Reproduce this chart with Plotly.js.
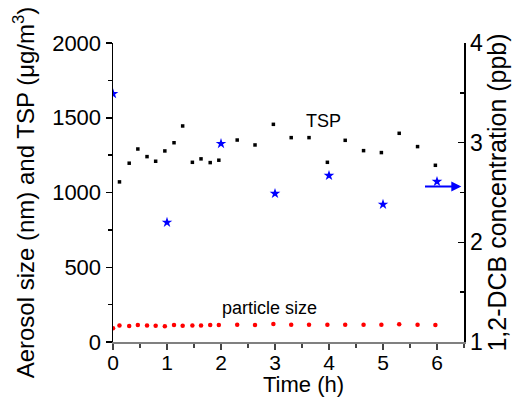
<!DOCTYPE html>
<html>
<head>
<meta charset="utf-8">
<script src="https://cdn.plot.ly/plotly-3.0.1.min.js"></script>
<style>html,body{margin:0;padding:0;background:#fff}#chart{width:512px;height:398px}</style>
</head>
<body>
<div id="chart"></div>
<script>
// TSP (µg/m3)
const tspTime = [0.12, 0.30, 0.46, 0.63, 0.79, 0.96, 1.13, 1.29, 1.47, 1.63, 1.80, 1.96, 2.30, 2.63, 2.97, 3.30, 3.63, 3.97, 4.30, 4.64, 4.97, 5.30, 5.64, 5.97];
const tspValue = [1071, 1196, 1291, 1240, 1209, 1278, 1333, 1445, 1202, 1225, 1200, 1216, 1351, 1318, 1456, 1367, 1367, 1202, 1349, 1280, 1267, 1396, 1307, 1182];
// particle size (nm)
const sizeTime = [0, 0.12, 0.30, 0.46, 0.63, 0.79, 0.96, 1.13, 1.29, 1.47, 1.63, 1.80, 1.96, 2.30, 2.63, 2.97, 3.30, 3.63, 3.97, 4.30, 4.64, 4.97, 5.30, 5.64, 5.97];
const sizeValue = [92, 111, 107, 114, 111, 109, 106, 113, 109, 111, 111, 113, 113, 116, 113, 120, 116, 116, 116, 116, 116, 116, 118, 116, 113];
// 1,2-DCB concentration (ppb)
const dcbTime = [0, 1, 2, 3, 4, 5, 6];
const dcbValue = [3.49, 2.20, 2.99, 2.49, 2.67, 2.38, 2.61];
// arrow pointing to right axis
const arrowX = [5.75, 6.45];
const arrowY = 2.56;

const FONT = 'Liberation Sans, Arial, sans-serif';

const traces = [
  {x: sizeTime, y: sizeValue, type: 'scatter', mode: 'markers', name: 'particle size',
   marker: {color: '#ff0000', size: 4.5, symbol: 'circle'}, yaxis: 'y'},
  {x: tspTime, y: tspValue, type: 'scatter', mode: 'markers', name: 'TSP',
   marker: {color: '#000000', size: 3.5, symbol: 'square'}, yaxis: 'y'},
  {x: dcbTime, y: dcbValue, type: 'scatter', mode: 'markers', name: '1,2-DCB',
   marker: {color: '#0000ff', size: 8, symbol: 'star'}, yaxis: 'y2'}
];

const layout = {
  width: 512, height: 398,
  margin: {l: 113, r: 48, t: 43, b: 56},
  paper_bgcolor: '#fff', plot_bgcolor: '#fff',
  showlegend: false,
  font: {family: FONT, color: '#000', size: 22},
  xaxis: {
    range: [0, 6.5], dtick: 1, tick0: 0, ticks: 'outside', ticklen: 6, tickwidth: 1.5, tickcolor: '#444',
    minor: {dtick: 0.5, ticks: 'outside', ticklen: 4, tickcolor: '#444'},
    showline: true, linecolor: '#808080', linewidth: 2, showgrid: false, zeroline: false,
    tickfont: {size: 21, family: FONT}, ticklabelstandoff: -5
  },
  yaxis: {
    range: [0, 2000], dtick: 500, tick0: 0, ticks: 'outside', ticklen: 6, tickwidth: 1.5, tickcolor: '#000',
    minor: {dtick: 250, ticks: 'outside', ticklen: 4, tickcolor: '#000'},
    showline: true, linecolor: '#000', linewidth: 1.5, showgrid: false, zeroline: false,
    tickfont: {size: 22, family: FONT},
    title: {text: 'Aerosol size (nm) and TSP (μg/m<sup>3</sup>)', font: {size: 24, family: FONT}, standoff: 10}
  },
  yaxis2: {
    overlaying: 'y', side: 'right', anchor: 'x',
    range: [1, 4], dtick: 1, tick0: 1, ticks: 'inside', ticklen: 6, tickwidth: 1.5, tickcolor: '#000',
    minor: {dtick: 0.5, ticks: 'inside', ticklen: 4, tickcolor: '#000'},
    showline: true, linecolor: '#000', linewidth: 1.5, showgrid: false, zeroline: false,
    tickfont: {size: 23, family: FONT},
    title: {text: '1,2-DCB concentration (ppb)', font: {size: 25, family: FONT}, standoff: 4}
  },
  annotations: [
    {x: 0.544, y: -0.1865, xref: 'paper', yref: 'paper', xanchor: 'center', yanchor: 'bottom',
     text: 'Time (h)', showarrow: false, borderpad: 0, font: {size: 22, family: FONT, color: '#000'}},
    {x: 3.9, y: 1480, xref: 'x', yref: 'y', text: 'TSP', showarrow: false,
     font: {size: 18, family: FONT, color: '#000'}},
    {x: 2.9, y: 230, xref: 'x', yref: 'y', text: 'particle size', showarrow: false,
     font: {size: 18, family: FONT, color: '#000'}},
    {x: arrowX[1], y: arrowY, xref: 'x', yref: 'y2', ax: arrowX[0], ay: arrowY, axref: 'x', ayref: 'y2',
     text: '', showarrow: true, arrowhead: 2, arrowsize: 1, arrowwidth: 2, arrowcolor: '#0000ff'}
  ]
};

Plotly.newPlot('chart', traces, layout, {displayModeBar: false, staticPlot: true});
</script>
</body>
</html>
